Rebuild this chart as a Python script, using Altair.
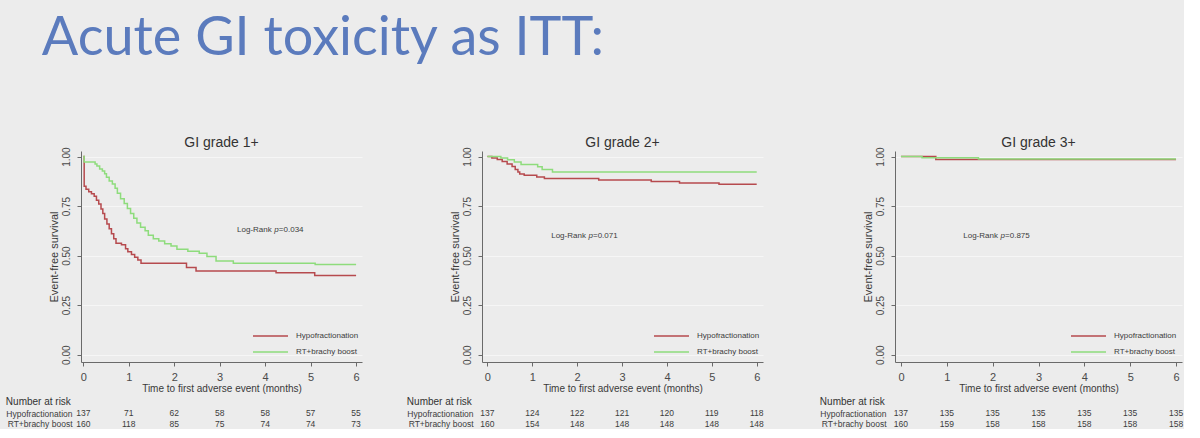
import altair as alt
import pandas as pd

GROUPS = ["Hypofractionation", "RT+brachy boost"]
COLORS = ["#b64a4e", "#8edc7c"]
MONTHS = [0, 1, 2, 3, 4, 5, 6]
Y_TICKS = [0, 0.25, 0.5, 0.75, 1.0]

PANEL_TITLES = ["GI grade 1+", "GI grade 2+", "GI grade 3+"]
P_VALUES = ["=0.034", "=0.071", "=0.875"]

# ---- Panel 1: GI grade 1+ ----
p1_hypo_t = [0, 0.02, 0.06, 0.12, 0.18, 0.24, 0.29, 0.34, 0.39, 0.43, 0.47, 0.52, 0.57, 0.62,
             0.67, 0.72, 0.84, 0.93, 0.98, 1.06, 1.13, 1.20, 1.27, 2.27, 2.48, 4.24, 5.09, 6.0]
p1_hypo_s = [1.0, 0.85, 0.835, 0.822, 0.812, 0.80, 0.78, 0.76, 0.735, 0.712, 0.685, 0.66, 0.635, 0.61,
             0.585, 0.562, 0.555, 0.535, 0.52, 0.506, 0.492, 0.478, 0.462, 0.44, 0.422, 0.414, 0.40, 0.40]
p1_rt_t = [0, 0.02, 0.26, 0.30, 0.36, 0.42, 0.47, 0.51, 0.57, 0.64, 0.70, 0.75, 0.82, 0.90, 0.97,
           1.04, 1.11, 1.18, 1.26, 1.36, 1.43, 1.54, 1.66, 1.79, 1.93, 2.06, 2.30, 2.55, 2.72, 2.92,
           3.30, 5.10, 6.0]
p1_rt_s = [1.0, 0.972, 0.962, 0.952, 0.937, 0.927, 0.913, 0.895, 0.877, 0.862, 0.84, 0.815, 0.787,
           0.763, 0.738, 0.712, 0.688, 0.665, 0.643, 0.625, 0.603, 0.585, 0.574, 0.56, 0.549, 0.532,
           0.522, 0.512, 0.495, 0.473, 0.462, 0.455, 0.455]
p1_risk_hypo = [137, 71, 62, 58, 58, 57, 55]
p1_risk_rt = [160, 118, 85, 75, 74, 74, 73]

# ---- Panel 2: GI grade 2+ ----
p2_hypo_t = [0, 0.10, 0.22, 0.33, 0.44, 0.55, 0.62, 0.68, 0.72, 0.82, 1.10, 1.27, 2.48, 3.65, 4.28, 5.16, 6.0]
p2_hypo_s = [1.0, 0.993, 0.985, 0.975, 0.963, 0.95, 0.935, 0.922, 0.912, 0.905, 0.897, 0.889, 0.882,
             0.874, 0.867, 0.86, 0.86]
p2_rt_t = [0, 0.30, 0.45, 0.60, 0.75, 1.12, 1.22, 1.45, 6.0]
p2_rt_s = [1.0, 0.993, 0.984, 0.972, 0.96, 0.948, 0.935, 0.922, 0.922]
p2_risk_hypo = [137, 124, 122, 121, 120, 119, 118]
p2_risk_rt = [160, 154, 148, 148, 148, 148, 148]

# ---- Panel 3: GI grade 3+ ----
p3_hypo_t = [0, 0.76, 6.0]
p3_hypo_s = [1.0, 0.985, 0.985]
p3_rt_t = [0, 0.46, 1.69, 6.0]
p3_rt_s = [1.0, 0.994, 0.9875, 0.9875]
p3_risk_hypo = [137, 135, 135, 135, 135, 135, 135]
p3_risk_rt = [160, 159, 158, 158, 158, 158, 158]

# Log-rank annotation anchor (months, survival) per panel
p_anchor_t = [4.2, 2.25, 2.17]
p_anchor_s = [0.628, 0.597, 0.597]

# x-domain / widths per panel
X_DOMAINS = [[-0.05, 6.13], [-0.12, 6.14], [-0.13, 6.13]]
WIDTHS = [281, 281, 287]
LEGEND_X = [171, 171, 175]
Y_DOMAIN = [-0.037, 1.028]
KM_HEIGHT = 211

FONT = "Liberation Sans"
TXT = "#3c3c3c"
AX = "#6a6a6a"


def panel(i, hypo_t, hypo_s, rt_t, rt_s, risk_hypo, risk_rt):
    km = pd.DataFrame({
        "t": hypo_t + rt_t,
        "s": hypo_s + rt_s,
        "group": [GROUPS[0]] * len(hypo_t) + [GROUPS[1]] * len(rt_t),
    })
    xs = alt.Scale(domain=X_DOMAINS[i], nice=False, zero=False)
    ys = alt.Scale(domain=Y_DOMAIN, nice=False, zero=False)

    lines = alt.Chart(km).mark_line(interpolate="step-after", strokeWidth=1.5).encode(
        x=alt.X("t:Q", scale=xs, axis=alt.Axis(
            values=MONTHS, format="d", title="Time to first adverse event (months)",
            grid=False, labelFontSize=11, titleFontSize=10, labelPadding=5, titlePadding=1,
            tickSize=4)),
        y=alt.Y("s:Q", scale=ys, axis=alt.Axis(
            values=Y_TICKS, format=".2f", title="Event-free survival", grid=True,
            labelAngle=270, labelAlign="center", labelBaseline="bottom",
            labelFontSize=10, titleFontSize=11, labelPadding=6, titlePadding=2, tickSize=4)),
        color=alt.Color("group:N", scale=alt.Scale(domain=GROUPS, range=COLORS),
                        legend=alt.Legend(title=None, orient="none", legendX=LEGEND_X[i], legendY=180,
                                          symbolType="stroke", symbolSize=1225, symbolStrokeWidth=1.5,
                                          labelFontSize=8, labelColor=TXT, labelFont=FONT,
                                          clipHeight=10, rowPadding=6, labelOffset=7, padding=0)),
        order=alt.Order("t:Q"),
    )

    ann = pd.DataFrame({"t": [p_anchor_t[i]], "s": [p_anchor_s[i]],
                        "a": ["Log-Rank"], "p": ["p"], "v": [P_VALUES[i]]})
    base = alt.Chart(ann).encode(x=alt.X("t:Q", scale=xs), y=alt.Y("s:Q", scale=ys))
    t1 = base.mark_text(align="right", baseline="middle", fontSize=8, font=FONT, color=TXT, dx=-2.5).encode(text="a:N")
    t2 = base.mark_text(align="left", baseline="middle", fontSize=8, font=FONT, color=TXT,
                        fontStyle="italic").encode(text="p:N")
    t3 = base.mark_text(align="left", baseline="middle", fontSize=8, font=FONT, color=TXT, dx=4.6).encode(text="v:N")

    km_chart = alt.layer(lines, t1, t2, t3).properties(
        width=WIDTHS[i], height=KM_HEIGHT,
        title=alt.TitleParams(PANEL_TITLES[i], fontSize=14, font=FONT, fontWeight="normal",
                              color="#333333", offset=-3, anchor="middle"))

    risk = pd.DataFrame({
        "t": MONTHS + MONTHS,
        "n": risk_hypo + risk_rt,
        "group": [GROUPS[0]] * 7 + [GROUPS[1]] * 7,
    })
    risk_chart = alt.Chart(risk).mark_text(fontSize=8.5, font=FONT, color=TXT).encode(
        x=alt.X("t:Q", scale=xs, axis=None),
        y=alt.Y("group:N", sort=GROUPS, title=None,
                axis=alt.Axis(domain=False, ticks=False, labelFontSize=8.5, labelPadding=9,
                              labelColor=TXT, labelFont=FONT)),
        text="n:Q",
    ).properties(width=WIDTHS[i], height=21,
                 title=alt.TitleParams("Number at risk", anchor="start", frame="bounds",
                                       fontSize=10, font=FONT, fontWeight="normal",
                                       color="#333333", offset=1))

    return alt.vconcat(km_chart, risk_chart, spacing=4).resolve_scale(
        x="independent", y="independent")


p1 = panel(0, p1_hypo_t, p1_hypo_s, p1_rt_t, p1_rt_s, p1_risk_hypo, p1_risk_rt)
p2 = panel(1, p2_hypo_t, p2_hypo_s, p2_rt_t, p2_rt_s, p2_risk_hypo, p2_risk_rt)
p3 = panel(2, p3_hypo_t, p3_hypo_s, p3_rt_t, p3_rt_s, p3_risk_hypo, p3_risk_rt)

inner = alt.hconcat(p1, p2, spacing=44).resolve_scale(color="independent").resolve_legend(color="independent")
chart = alt.hconcat(inner, p3, spacing=55).resolve_scale(color="independent").resolve_legend(
    color="independent"
).properties(
    title=alt.TitleParams("Acute GI toxicity as ITT:", anchor="start", fontSize=54, font="Lato",
                          fontWeight="normal", color="#5b7bbd", dx=36, offset=70),
    background="#ececec",
    padding={"left": 5, "top": 11, "right": 0, "bottom": 0},
).configure_view(stroke=None).configure_axis(
    domainColor=AX, tickColor=AX, labelColor="#4a4a4a", titleColor="#3a3a3a",
    labelFont=FONT, titleFont=FONT, titleFontWeight="normal", gridColor="#f6f6f6", gridWidth=1,
    domainWidth=1,
)

chart.save("out.html", embed_options={"renderer": "svg", "actions": False})
